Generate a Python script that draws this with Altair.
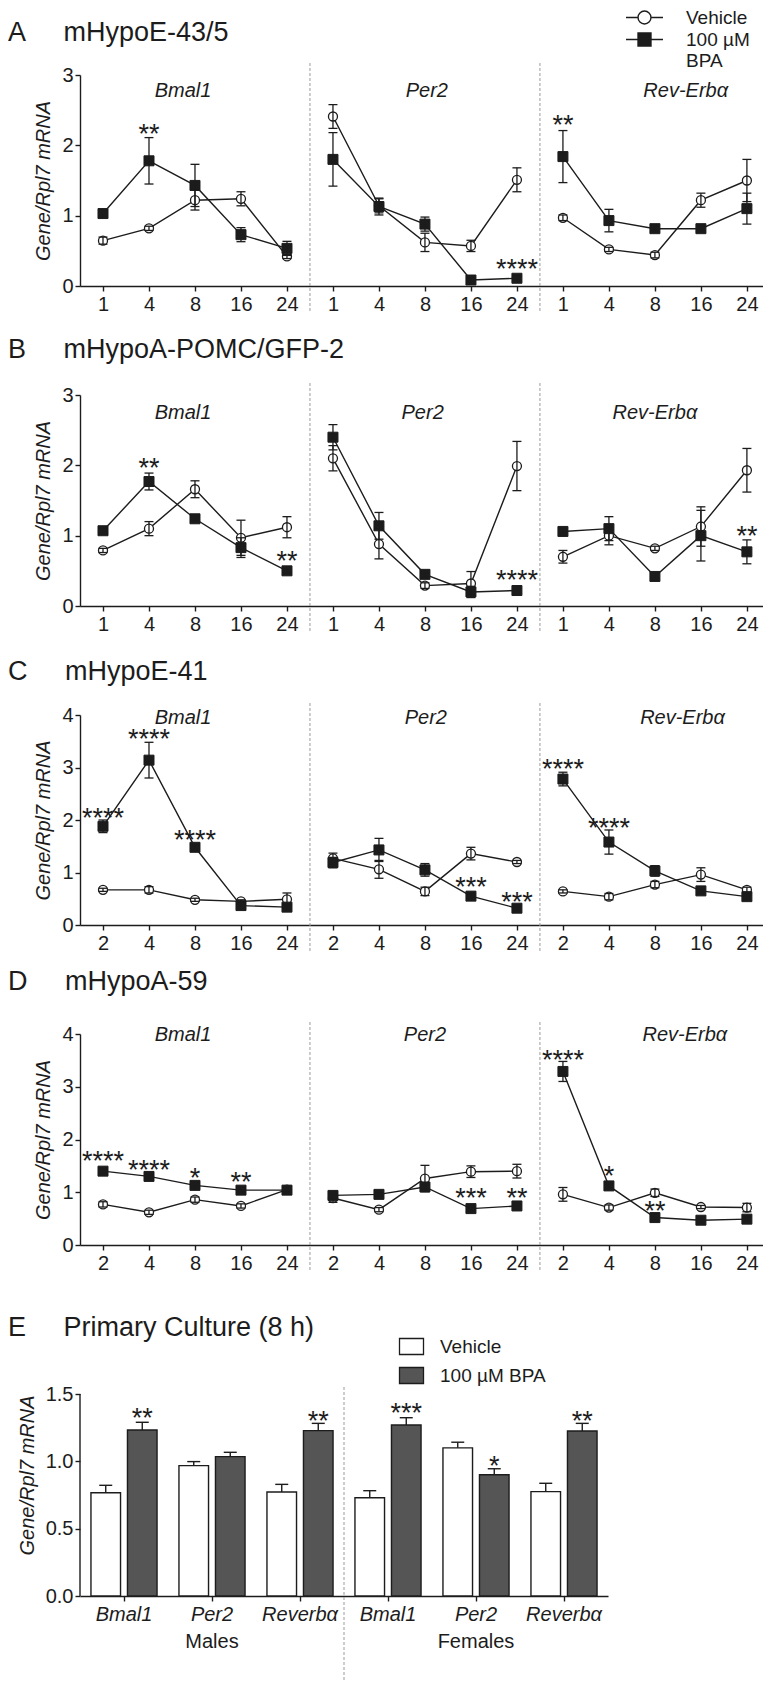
import altair as alt
import pandas as pd

FONT = "Liberation Sans"
INK = "#1c1c1c"
SEP = "#9b9b9b"
BAR_DARK = "#555555"
NB = "\u00a0"

TRT = ["Vehicle", "100 \u00b5M BPA"]
LINE_GENES = ["Bmal1", "Per2", "Rev-Erb\u03b1"]

# ---------------- Panel A : mHypoE-43/5 (Bmal1 x5, Per2 x5, Rev-Erba x5) ----------------
A_times = ["1", "4", "8", "16", "24"]
A_veh = [0.645, 0.82, 1.22, 1.24, 0.42, 2.41, 1.14, 0.62, 0.57, 1.51, 0.97, 0.52, 0.44, 1.22, 1.50]
A_veh_err = [0.05, 0.03, 0.14, 0.10, 0.03, 0.17, 0.10, 0.13, 0.08, 0.17, 0.04, 0.03, 0.04, 0.10, 0.30]
A_bpa = [1.03, 1.78, 1.43, 0.73, 0.535, 1.80, 1.13, 0.88, 0.085, 0.11, 1.84, 0.93, 0.815, 0.815, 1.10]
A_bpa_err = [0.05, 0.33, 0.30, 0.10, 0.10, 0.38, 0.12, 0.10, 0.03, 0.03, 0.37, 0.16, 0.04, 0.04, 0.22]
A_star_pos = [1, 9, 10]
A_star_txt = ["**", "****", "**"]
A_star_y = [2.25, 0.32, 2.37]
A_gene_x = [1.74, 7.04, 12.67]

# ---------------- Panel B : mHypoA-POMC/GFP-2 ----------------
B_times = ["1", "4", "8", "16", "24"]
B_veh = [0.79, 1.10, 1.66, 0.97, 1.12, 2.10, 0.88, 0.29, 0.32, 1.99, 0.70, 1.00, 0.82, 1.13, 1.93]
B_veh_err = [0.03, 0.10, 0.12, 0.25, 0.15, 0.18, 0.21, 0.04, 0.17, 0.35, 0.09, 0.13, 0.03, 0.28, 0.31]
B_bpa = [1.07, 1.77, 1.24, 0.83, 0.50, 2.40, 1.14, 0.45, 0.20, 0.22, 1.06, 1.10, 0.42, 1.00, 0.77]
B_bpa_err = [0.04, 0.12, 0.04, 0.14, 0.03, 0.18, 0.19, 0.04, 0.08, 0.03, 0.03, 0.17, 0.03, 0.36, 0.17]
B_star_pos = [1, 4, 9, 14]
B_star_txt = ["**", "**", "****", "**"]
B_star_y = [2.05, 0.725, 0.455, 1.08]
B_gene_x = [1.74, 6.95, 12.0]

# ---------------- Panel C : mHypoE-41 ----------------
C_times = ["2", "4", "8", "16", "24"]
C_veh = [0.67, 0.67, 0.48, 0.45, 0.49, 1.27, 1.06, 0.64, 1.36, 1.20, 0.64, 0.54, 0.77, 0.96, 0.67]
C_veh_err = [0.03, 0.06, 0.03, 0.03, 0.12, 0.10, 0.17, 0.08, 0.12, 0.03, 0.03, 0.06, 0.06, 0.13, 0.05]
C_bpa = [1.88, 3.14, 1.48, 0.37, 0.34, 1.19, 1.43, 1.05, 0.55, 0.32, 2.78, 1.58, 1.03, 0.65, 0.54]
C_bpa_err = [0.12, 0.34, 0.04, 0.04, 0.04, 0.10, 0.22, 0.12, 0.04, 0.03, 0.13, 0.23, 0.10, 0.04, 0.04]
C_star_pos = [0, 1, 2, 8, 9, 10, 11]
C_star_txt = ["****", "****", "****", "***", "***", "****", "****"]
C_star_y = [2.16, 3.66, 1.74, 0.83, 0.56, 3.08, 1.97]
C_gene_x = [1.74, 7.02, 12.6]

# ---------------- Panel D : mHypoA-59 ----------------
D_times = ["2", "4", "8", "16", "24"]
D_veh = [0.77, 0.62, 0.86, 0.74, 1.05, 0.89, 0.67, 1.26, 1.39, 1.40, 0.96, 0.71, 0.99, 0.72, 0.71]
D_veh_err = [0.05, 0.04, 0.05, 0.04, 0.05, 0.08, 0.04, 0.25, 0.11, 0.13, 0.13, 0.05, 0.07, 0.03, 0.08]
D_bpa = [1.40, 1.30, 1.13, 1.04, 1.04, 0.94, 0.96, 1.10, 0.69, 0.74, 3.29, 1.12, 0.52, 0.47, 0.49]
D_bpa_err = [0.03, 0.03, 0.04, 0.03, 0.04, 0.04, 0.03, 0.04, 0.03, 0.03, 0.19, 0.04, 0.04, 0.03, 0.04]
D_star_pos = [0, 1, 2, 3, 8, 9, 10, 11, 12]
D_star_txt = ["****", "****", "*", "**", "***", "**", "****", "*", "**"]
D_star_y = [1.70, 1.54, 1.39, 1.31, 1.00, 1.01, 3.62, 1.42, 0.76]
D_gene_x = [1.74, 7.0, 12.65]

# ---------------- Panel E : Primary culture (8 h) ----------------
E_sex = ["Males", "Males", "Males", "Females", "Females", "Females"]
E_genes = ["Bmal1", "Per2", "Reverb\u03b1", "Bmal1", "Per2", "Reverb\u03b1"]
E_veh = [0.767, 0.968, 0.772, 0.73, 1.10, 0.775]
E_veh_err = [0.055, 0.03, 0.057, 0.052, 0.042, 0.062]
E_bpa = [1.233, 1.035, 1.228, 1.27, 0.90, 1.225]
E_bpa_err = [0.057, 0.032, 0.054, 0.054, 0.045, 0.057]
E_star_idx = [0, 2, 3, 4, 5]
E_star_txt = ["**", "**", "***", "*", "**"]
E_star_y = [1.37, 1.344, 1.40, 1.01, 1.344]
E_ymax = 1.5

VEH_PATH = "M-2.31,0H-0.81M0.81,0H2.31M-0.81,0A0.81,0.81,0,1,1,0.81,0A0.81,0.81,0,1,1,-0.81,0Z"
BPA_PATH = "M-2.31,0H2.31M-0.81,-0.81H0.81V0.81H-0.81Z"
BOX_PATH = "M-1.5,-1H1.5V1H-1.5Z"


def make_title(text, dy):
    return alt.TitleParams(text=text, anchor="start", frame="group", orient="top",
                           dx=-72, dy=dy, offset=0, baseline="alphabetic", font=FONT,
                           fontSize=27, fontWeight="normal", color=INK)


def line_panel(title, times, veh, veh_err, bpa, bpa_err, s_pos, s_txt, s_y,
               ymax, gene_x, gene_y, plot_h, title_dy, legend=False):
    H = plot_h
    rows = []
    for i in range(15):
        for trt, m, e in ((TRT[0], veh[i], veh_err[i]), (TRT[1], bpa[i], bpa_err[i])):
            rows.append({"pos": i, "gene": LINE_GENES[i // 5], "trt": trt,
                         "mean": m, "lo": m - e, "hi": m + e})
    df = pd.DataFrame(rows)
    labels_js = "[" + ",".join("'%s'" % t for t in times) + "]"
    xscale = alt.Scale(domain=[-0.5, 14.35], nice=False, zero=False)
    yscale = alt.Scale(domain=[0, ymax], nice=False)
    xaxis = alt.Axis(values=list(range(15)), labelExpr=labels_js + "[datum.value % 5]",
                     title=None, labelPadding=3, labelAngle=0)
    yaxis = alt.Axis(values=list(range(ymax + 1)), title="Gene/Rpl7 mRNA", format="d",
                     labelPadding=2, titlePadding=8)

    def X(f="pos:Q"):
        return alt.X(f, scale=xscale, axis=xaxis)

    def Y(f):
        return alt.Y(f, scale=yscale, axis=yaxis)

    base = alt.Chart(df)
    sep = alt.Chart(pd.DataFrame({"pos": [4.5, 9.5]})).mark_rule(
        color=SEP, strokeWidth=1, strokeDash=[3, 2]).encode(
        x=X(), y=alt.value(-12), y2=alt.value(H + 27))
    lines = base.mark_line(color=INK, strokeWidth=1.4).encode(
        x=X(), y=Y("mean:Q"), detail=["gene:N", "trt:N"])
    veh_pts = base.transform_filter(alt.datum.trt == TRT[0]).mark_point(
        shape="circle", size=81, filled=True, fill="white", stroke=INK,
        strokeWidth=1.3, opacity=1).encode(x=X(), y=Y("mean:Q"))
    bpa_pts = base.transform_filter(alt.datum.trt == TRT[1]).mark_point(
        shape="square", size=100, filled=True, fill=INK, stroke=INK,
        strokeWidth=1, opacity=1).encode(x=X(), y=Y("mean:Q"))
    err = base.mark_rule(color=INK, strokeWidth=1.3).encode(x=X(), y=Y("lo:Q"), y2="hi:Q")
    cap_lo = base.mark_tick(orient="horizontal", size=9, thickness=1.3, color=INK,
                            opacity=1).encode(x=X(), y=Y("lo:Q"))
    cap_hi = base.mark_tick(orient="horizontal", size=9, thickness=1.3, color=INK,
                            opacity=1).encode(x=X(), y=Y("hi:Q"))
    stars = alt.Chart(pd.DataFrame({"pos": s_pos, "txt": s_txt, "y": s_y})).mark_text(
        font=FONT, fontSize=27, color=INK, baseline="alphabetic", dy=15).encode(
        x=X(), y=Y("y:Q"), text="txt:N")
    genes = alt.Chart(pd.DataFrame({"pos": gene_x, "gene": LINE_GENES,
                                    "y": [gene_y] * 3})).mark_text(
        font=FONT, fontSize=20, fontStyle="italic", color=INK, baseline="middle").encode(
        x=X(), y=Y("y:Q"), text="gene:N")
    layers = [sep, lines, veh_pts, bpa_pts, err, cap_lo, cap_hi, stars, genes]
    if legend:
        leg = alt.Legend(title=None, orient="none", legendX=555, legendY=-67,
                         symbolSize=256, symbolStrokeColor=INK, symbolStrokeWidth=1.4,
                         labelFont=FONT, labelFontSize=19, labelColor=INK, labelOffset=32,
                         rowPadding=2, padding=0,
                         labelExpr="datum.label == '100 \u00b5M BPA' ? ['100 \u00b5M', 'BPA'] : datum.label")
        lchart = alt.Chart(pd.DataFrame({"trt": TRT})).transform_filter("false").mark_point(
            opacity=1, filled=True, strokeWidth=1.4).encode(
            shape=alt.Shape("trt:N", scale=alt.Scale(domain=TRT, range=[VEH_PATH, BPA_PATH]), legend=leg),
            fill=alt.Fill("trt:N", scale=alt.Scale(domain=TRT, range=["white", INK]), legend=leg),
            stroke=alt.Stroke("trt:N", scale=alt.Scale(domain=TRT, range=[INK, INK]), legend=leg))
        layers.append(lchart)
    return alt.layer(*layers).properties(width=683, height=H, title=make_title(title, title_dy))


def bar_panel(title, plot_h, top_pad, title_dy):
    H = plot_h + top_pad
    keys = ["%s|%s" % (s, g) for s, g in zip(E_sex, E_genes)]
    rows = []
    for i, k in enumerate(keys):
        for trt, m, e in ((TRT[0], E_veh[i], E_veh_err[i]), (TRT[1], E_bpa[i], E_bpa_err[i])):
            rows.append({"key": k, "trt": trt, "mean": m, "hi": m + e})
    df = pd.DataFrame(rows)
    xscale = alt.Scale(domain=keys, paddingInner=0, paddingOuter=0)
    xaxis = alt.Axis(title=None, labelExpr="split(datum.value, '|')[1]", labelFontStyle="italic",
                     labelAngle=0, labelPadding=3)
    offscale = alt.Scale(domain=TRT, paddingInner=0.19, paddingOuter=0.30)
    # the scale runs a little above 1.5 so that the plot keeps free room on top
    yscale = alt.Scale(domain=[0, E_ymax * H / plot_h], nice=False)
    yaxis = alt.Axis(values=[0, 0.5, 1.0, 1.5], format=".1f", title="Gene/Rpl7 mRNA",
                     labelPadding=2, titlePadding=8, domain=False)

    def X(f="key:N", **kw):
        return alt.X(f, scale=xscale, axis=xaxis, **kw)

    def Y(f):
        return alt.Y(f, scale=yscale, axis=yaxis)

    XO = alt.XOffset("trt:N", scale=offscale)
    base = alt.Chart(df)
    leg = alt.Legend(title=None, orient="none", legendX=322, legendY=-17, symbolType=BOX_PATH,
                     symbolSize=256, symbolStrokeColor=INK, symbolStrokeWidth=1.3,
                     labelFont=FONT, labelFontSize=19, labelColor=INK, labelOffset=19,
                     rowPadding=6, padding=0)
    ydom = alt.Chart(pd.DataFrame({"lo": [0.0], "hi": [E_ymax]})).mark_rule(
        color=INK, strokeWidth=1.4).encode(x=alt.value(0), y=Y("lo:Q"), y2="hi:Q")
    bars = base.mark_bar(stroke=INK, strokeWidth=1.4).encode(
        x=X(), xOffset=XO, y=Y("mean:Q"),
        fill=alt.Fill("trt:N", scale=alt.Scale(domain=TRT, range=["white", BAR_DARK]), legend=leg))
    err = base.mark_rule(color=INK, strokeWidth=1.4).encode(x=X(), xOffset=XO, y=Y("mean:Q"), y2="hi:Q")
    cap = base.mark_tick(orient="horizontal", size=13, thickness=1.4, color=INK, opacity=1).encode(
        x=X(), xOffset=XO, y=Y("hi:Q"))
    sdf = pd.DataFrame({"key": [keys[i] for i in E_star_idx], "trt": [TRT[1]] * len(E_star_idx),
                        "txt": E_star_txt, "y": E_star_y})
    stars = alt.Chart(sdf).mark_text(font=FONT, fontSize=27, color=INK, baseline="alphabetic",
                                     dy=15).encode(x=X(), xOffset=XO, y=Y("y:Q"), text="txt:N")
    sex = alt.Chart(pd.DataFrame({"key": [keys[1], keys[4]], "lab": ["Males", "Females"]})).mark_text(
        font=FONT, fontSize=20, color=INK, baseline="middle", dy=46).encode(
        x=X(), y=alt.value(H), text="lab:N")
    sep = alt.Chart(pd.DataFrame({"key": [keys[2]]})).mark_rule(
        color=SEP, strokeWidth=1, strokeDash=[3, 2]).encode(
        x=X(bandPosition=1), y=alt.value(top_pad - 7), y2=alt.value(H + 86))
    return alt.layer(sep, ydom, bars, err, cap, stars, sex).properties(
        width=528, height=H, title=make_title(title, title_dy))


pA = line_panel("A" + NB * 5 + "mHypoE-43/5", A_times, A_veh, A_veh_err, A_bpa, A_bpa_err,
                A_star_pos, A_star_txt, A_star_y, 3, A_gene_x, 2.77, 211, 60, legend=True)
pB = line_panel("B" + NB * 5 + "mHypoA-POMC/GFP-2", B_times, B_veh, B_veh_err, B_bpa, B_bpa_err,
                B_star_pos, B_star_txt, B_star_y, 3, B_gene_x, 2.74, 211, 2)
pC = line_panel("C" + NB * 5 + "mHypoE-41", C_times, C_veh, C_veh_err, C_bpa, C_bpa_err,
                C_star_pos, C_star_txt, C_star_y, 4, C_gene_x, 3.94, 210, 4)
pD = line_panel("D" + NB * 5 + "mHypoA-59", D_times, D_veh, D_veh_err, D_bpa, D_bpa_err,
                D_star_pos, D_star_txt, D_star_y, 4, D_gene_x, 3.98, 211, -5)
pE = bar_panel("E" + NB * 5 + "Primary Culture (8 h)", 202, 40, 26)

chart = alt.vconcat(pA, pB, pC, pD, pE, spacing=109, bounds="flush").resolve_scale(
    x="independent", y="independent", fill="independent", shape="independent",
    stroke="independent").resolve_legend(
    fill="independent", shape="independent", stroke="independent").properties(padding=0).configure(
    font=FONT).configure_view(stroke=None).configure_axis(
    domainColor=INK, domainWidth=1.4, tickColor=INK, tickWidth=1.4, tickSize=5,
    labelColor=INK, labelFont=FONT, labelFontSize=20, titleFont=FONT, titleFontSize=20,
    titleFontStyle="italic", titleFontWeight="normal", titleColor=INK, grid=False)

chart.save("out.html", embed_options={"renderer": "svg", "actions": False})
